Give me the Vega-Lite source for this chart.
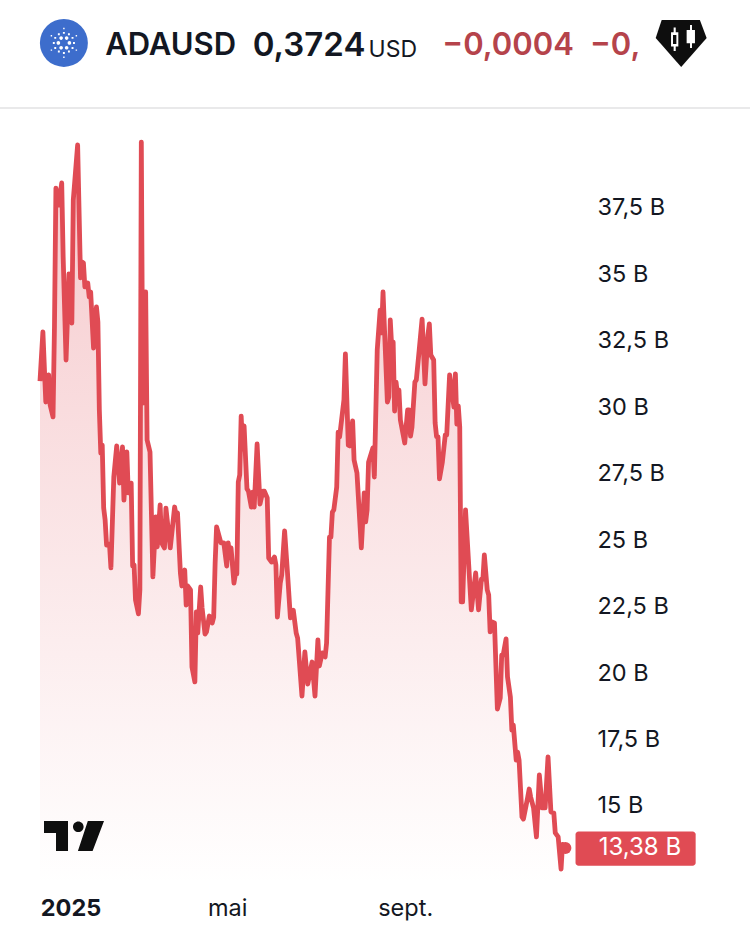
{
  "$schema": "https://vega.github.io/schema/vega-lite/v6.json",
  "description": "ADAUSD market cap",
  "autosize": "none",
  "padding": {"left": 40, "right": 160, "top": 120, "bottom": 46},
  "width": 550,
  "height": 765,
  "background": "white",
  "config": {"view": {"stroke": null}, "font": "Inter"},
  "data": {
    "values": [
      {"date":"2024-12-22","bn":30.95},{"date":"2024-12-24","bn":32.8},{"date":"2024-12-26","bn":30.16},{"date":"2024-12-28","bn":31.18},{"date":"2024-12-29","bn":30.05},{"date":"2024-12-31","bn":29.6},
      {"date":"2025-01-01","bn":33.0},{"date":"2025-01-02","bn":38.21},{"date":"2025-01-04","bn":37.57},{"date":"2025-01-06","bn":38.4},{"date":"2025-01-07","bn":35.62},{"date":"2025-01-09","bn":31.74},{"date":"2025-01-11","bn":34.98},{"date":"2025-01-13","bn":33.13},{"date":"2025-01-14","bn":37.76},{"date":"2025-01-17","bn":39.83},{"date":"2025-01-19","bn":34.83},{"date":"2025-01-20","bn":35.43},{"date":"2025-01-21","bn":35.39},{"date":"2025-01-22","bn":34.49},{"date":"2025-01-24","bn":34.64},{"date":"2025-01-25","bn":34.11},{"date":"2025-01-26","bn":34.3},{"date":"2025-01-28","bn":32.19},{"date":"2025-01-30","bn":33.74},{"date":"2025-01-31","bn":33.17},
      {"date":"2025-02-01","bn":29.86},{"date":"2025-02-02","bn":28.24},{"date":"2025-02-03","bn":28.54},{"date":"2025-02-04","bn":26.17},{"date":"2025-02-05","bn":25.72},{"date":"2025-02-06","bn":24.78},{"date":"2025-02-08","bn":24.82},{"date":"2025-02-09","bn":23.92},{"date":"2025-02-11","bn":27.34},{"date":"2025-02-13","bn":28.51},{"date":"2025-02-15","bn":27.11},{"date":"2025-02-17","bn":28.47},{"date":"2025-02-18","bn":26.47},{"date":"2025-02-20","bn":28.28},{"date":"2025-02-21","bn":26.74},{"date":"2025-02-23","bn":27.11},{"date":"2025-02-24","bn":23.99},{"date":"2025-02-25","bn":24.03},{"date":"2025-02-26","bn":22.71},{"date":"2025-02-28","bn":22.19},
      {"date":"2025-03-01","bn":23.09},{"date":"2025-03-02","bn":39.94},{"date":"2025-03-03","bn":30.12},{"date":"2025-03-05","bn":34.3},{"date":"2025-03-06","bn":28.73},{"date":"2025-03-08","bn":28.28},{"date":"2025-03-10","bn":23.58},{"date":"2025-03-12","bn":25.84},{"date":"2025-03-13","bn":24.71},{"date":"2025-03-15","bn":26.29},{"date":"2025-03-16","bn":24.86},{"date":"2025-03-18","bn":24.67},{"date":"2025-03-19","bn":26.17},{"date":"2025-03-22","bn":24.67},{"date":"2025-03-25","bn":26.21},{"date":"2025-03-26","bn":25.91},{"date":"2025-03-27","bn":25.99},{"date":"2025-03-29","bn":23.73},{"date":"2025-03-30","bn":23.24},
      {"date":"2025-04-01","bn":23.84},{"date":"2025-04-02","bn":22.52},{"date":"2025-04-03","bn":23.24},{"date":"2025-04-05","bn":23.09},{"date":"2025-04-06","bn":20.19},{"date":"2025-04-08","bn":19.63},{"date":"2025-04-09","bn":22.26},{"date":"2025-04-10","bn":21.47},{"date":"2025-04-12","bn":23.2},{"date":"2025-04-13","bn":22.41},{"date":"2025-04-15","bn":21.43},{"date":"2025-04-16","bn":21.51},{"date":"2025-04-18","bn":22.11},{"date":"2025-04-20","bn":21.85},{"date":"2025-04-21","bn":22.07},{"date":"2025-04-22","bn":24.1},{"date":"2025-04-23","bn":25.46},{"date":"2025-04-26","bn":24.86},{"date":"2025-04-28","bn":24.86},{"date":"2025-04-30","bn":23.99},
      {"date":"2025-05-01","bn":24.86},{"date":"2025-05-02","bn":24.44},{"date":"2025-05-03","bn":24.67},{"date":"2025-05-05","bn":23.35},{"date":"2025-05-06","bn":23.69},{"date":"2025-05-07","bn":23.69},{"date":"2025-05-08","bn":27.15},{"date":"2025-05-09","bn":27.42},{"date":"2025-05-10","bn":29.63},{"date":"2025-05-11","bn":28.39},{"date":"2025-05-12","bn":29.26},{"date":"2025-05-14","bn":26.89},{"date":"2025-05-15","bn":26.81},{"date":"2025-05-17","bn":26.21},{"date":"2025-05-18","bn":26.77},{"date":"2025-05-19","bn":26.21},{"date":"2025-05-21","bn":28.58},{"date":"2025-05-23","bn":26.32},{"date":"2025-05-25","bn":26.81},{"date":"2025-05-26","bn":26.81},{"date":"2025-05-28","bn":26.55},{"date":"2025-05-29","bn":24.29},{"date":"2025-05-31","bn":24.14},
      {"date":"2025-06-02","bn":24.33},{"date":"2025-06-03","bn":24.03},{"date":"2025-06-04","bn":22.07},{"date":"2025-06-06","bn":23.35},{"date":"2025-06-07","bn":23.65},{"date":"2025-06-09","bn":25.31},{"date":"2025-06-11","bn":23.73},{"date":"2025-06-13","bn":22.04},{"date":"2025-06-15","bn":22.33},{"date":"2025-06-17","bn":21.47},{"date":"2025-06-18","bn":21.28},{"date":"2025-06-21","bn":19.1},{"date":"2025-06-23","bn":20.76},{"date":"2025-06-25","bn":19.55},{"date":"2025-06-28","bn":20.38},{"date":"2025-06-30","bn":19.1},
      {"date":"2025-07-02","bn":21.21},{"date":"2025-07-03","bn":20.23},{"date":"2025-07-05","bn":20.72},{"date":"2025-07-07","bn":20.57},{"date":"2025-07-08","bn":21.09},{"date":"2025-07-10","bn":25.08},{"date":"2025-07-11","bn":25.08},{"date":"2025-07-12","bn":26.02},{"date":"2025-07-13","bn":26.1},{"date":"2025-07-15","bn":26.96},{"date":"2025-07-16","bn":29.03},{"date":"2025-07-17","bn":28.85},{"date":"2025-07-20","bn":30.24},{"date":"2025-07-21","bn":31.97},{"date":"2025-07-23","bn":28.54},{"date":"2025-07-24","bn":28.51},{"date":"2025-07-26","bn":29.45},{"date":"2025-07-27","bn":27.98},{"date":"2025-07-29","bn":27.49},
      {"date":"2025-08-01","bn":24.67},{"date":"2025-08-03","bn":26.74},{"date":"2025-08-04","bn":25.65},{"date":"2025-08-05","bn":26.1},{"date":"2025-08-06","bn":27.9},{"date":"2025-08-09","bn":28.43},{"date":"2025-08-10","bn":27.34},{"date":"2025-08-12","bn":32.12},{"date":"2025-08-14","bn":33.62},{"date":"2025-08-15","bn":32.76},{"date":"2025-08-16","bn":34.3},{"date":"2025-08-19","bn":30.16},{"date":"2025-08-20","bn":30.35},{"date":"2025-08-21","bn":33.25},{"date":"2025-08-22","bn":32.23},{"date":"2025-08-23","bn":32.42},{"date":"2025-08-24","bn":29.82},{"date":"2025-08-25","bn":30.91},{"date":"2025-08-26","bn":30.43},{"date":"2025-08-27","bn":30.61},{"date":"2025-08-28","bn":29.48},{"date":"2025-08-31","bn":28.62},
      {"date":"2025-09-02","bn":29.86},{"date":"2025-09-03","bn":29.86},{"date":"2025-09-04","bn":28.88},{"date":"2025-09-05","bn":29.22},{"date":"2025-09-07","bn":30.91},{"date":"2025-09-08","bn":30.99},{"date":"2025-09-10","bn":32.12},{"date":"2025-09-12","bn":33.28},{"date":"2025-09-14","bn":30.84},{"date":"2025-09-16","bn":32.68},{"date":"2025-09-17","bn":33.1},{"date":"2025-09-18","bn":31.93},{"date":"2025-09-20","bn":31.74},{"date":"2025-09-21","bn":29.37},{"date":"2025-09-22","bn":28.85},{"date":"2025-09-23","bn":28.85},{"date":"2025-09-24","bn":27.27},{"date":"2025-09-26","bn":27.9},{"date":"2025-09-28","bn":28.92},{"date":"2025-09-29","bn":28.92},
      {"date":"2025-10-01","bn":31.18},{"date":"2025-10-04","bn":29.97},{"date":"2025-10-05","bn":31.22},{"date":"2025-10-06","bn":29.33},{"date":"2025-10-07","bn":30.01},{"date":"2025-10-08","bn":29.22},{"date":"2025-10-09","bn":22.64},{"date":"2025-10-10","bn":22.64},{"date":"2025-10-12","bn":26.1},{"date":"2025-10-16","bn":22.34},{"date":"2025-10-19","bn":23.73},{"date":"2025-10-21","bn":22.34},{"date":"2025-10-23","bn":23.5},{"date":"2025-10-24","bn":23.5},{"date":"2025-10-25","bn":24.41},{"date":"2025-10-27","bn":23.09},{"date":"2025-10-28","bn":22.9},{"date":"2025-10-29","bn":21.51},{"date":"2025-10-30","bn":21.89},
      {"date":"2025-11-01","bn":21.85},{"date":"2025-11-03","bn":18.61},{"date":"2025-11-05","bn":19.03},{"date":"2025-11-06","bn":20.64},{"date":"2025-11-07","bn":20.64},{"date":"2025-11-09","bn":21.25},{"date":"2025-11-10","bn":19.82},{"date":"2025-11-12","bn":19.06},{"date":"2025-11-13","bn":17.82},{"date":"2025-11-14","bn":18.01},{"date":"2025-11-16","bn":16.69},{"date":"2025-11-17","bn":16.99},{"date":"2025-11-18","bn":16.69},{"date":"2025-11-20","bn":14.55},{"date":"2025-11-21","bn":14.47},{"date":"2025-11-24","bn":15.3},{"date":"2025-11-25","bn":15.6},{"date":"2025-11-26","bn":15.3},{"date":"2025-11-28","bn":14.89},{"date":"2025-11-30","bn":13.8},
      {"date":"2025-12-02","bn":16.13},{"date":"2025-12-04","bn":14.89},{"date":"2025-12-06","bn":14.89},{"date":"2025-12-08","bn":16.81},{"date":"2025-12-10","bn":14.74},{"date":"2025-12-12","bn":14.7},{"date":"2025-12-13","bn":13.95},{"date":"2025-12-15","bn":13.8},{"date":"2025-12-17","bn":12.59},{"date":"2025-12-18","bn":13.52},{"date":"2025-12-20","bn":13.38}
    ]
  },
  "encoding": {
    "x": {
      "field": "date",
      "type": "temporal",
      "title": null,
      "scale": {"domain": [{"year": 2024, "month": 12, "date": 22}, {"year": 2026, "month": 1, "date": 6}]},
      "axis": {
        "domain": false,
        "ticks": false,
        "grid": false,
        "labelFont": "Inter",
        "labelFontSize": 23.5,
        "labelColor": "#131722",
        "labelPadding": 11,
        "labelBound": false,
        "labelFlush": false,
        "labelOverlap": false,
        "labelFontWeight": {"condition": {"test": "month(datum.value) == 0", "value": 700}, "value": 400},
        "labelOffset": {"condition": {"test": "month(datum.value) == 0", "value": 16}, "value": -1},
        "values": [{"year": 2025, "month": 1, "date": 1}, {"year": 2025, "month": 5, "date": 1}, {"year": 2025, "month": 9, "date": 1}],
        "labelExpr": "month(datum.value) == 0 ? '2025' : month(datum.value) == 4 ? 'mai' : 'sept.'"
      }
    },
    "y": {
      "field": "bn",
      "type": "quantitative",
      "title": null,
      "scale": {"domain": [11.99, 40.77], "nice": false, "zero": false},
      "axis": {
        "orient": "right",
        "domain": false,
        "ticks": false,
        "grid": false,
        "labelFont": "Inter",
        "labelFontSize": 23.5,
        "labelColor": "#131722",
        "labelPadding": 7,
        "labelOffset": 1,
        "values": [15, 17.5, 20, 22.5, 25, 27.5, 30, 32.5, 35, 37.5],
        "labelExpr": "replace(replace(format(datum.value, '.1f'), '.0', ''), '.', ',') + ' B'"
      }
    }
  },
  "layer": [
    {
      "mark": {
        "type": "area",
        "color": {
          "gradient": "linear",
          "x1": 0, "y1": 0, "x2": 0, "y2": 1,
          "stops": [
            {"offset": 0, "color": "rgba(224,74,84,0.30)"},
            {"offset": 1, "color": "rgba(224,74,84,0)"}
          ]
        }
      },
      "encoding": {"y2": {"datum": 11.99}}
    },
    {"mark": {"type": "line", "color": "#E04B54", "strokeWidth": 4.8, "strokeJoin": "round"}},
    {
      "data": {"values": [{"date": "2025-12-20", "bn": 13.38}]},
      "mark": {"type": "point", "filled": true, "opacity": 1, "color": "#E04B54", "size": 144}
    },
    {
      "data": {"values": [{"date": "2025-12-27", "end": "2026-03-20", "bn": 14.0, "low": 12.71}]},
      "mark": {"type": "bar", "color": "#E04B54", "cornerRadius": 3},
      "encoding": {"x2": {"field": "end"}, "y2": {"field": "low"}}
    },
    {
      "data": {"values": [{"date": "2026-01-12", "bn": 13.38, "label": "13,38 B"}]},
      "mark": {"type": "text", "align": "left", "baseline": "middle", "color": "white", "font": "Inter", "fontSize": 24},
      "encoding": {"text": {"field": "label"}}
    },
    {
      "data": {"values": [{"date": "2024-11-24", "end": "2026-04-27", "bn": 41.22}]},
      "mark": {"type": "rule", "color": "#E9E9EA", "strokeWidth": 2},
      "encoding": {"x2": {"field": "end"}}
    },
    {
      "data": {"values": [{"date": "2025-02-05", "bn": 43.55, "label": "ADAUSD"}]},
      "mark": {"type": "text", "align": "left", "baseline": "middle", "color": "#131722", "font": "Inter", "fontSize": 31, "fontWeight": 600},
      "encoding": {"text": {"field": "label"}}
    },
    {
      "data": {"values": [{"date": "2025-05-18", "bn": 43.55, "label": "0,3724"}]},
      "mark": {"type": "text", "align": "left", "baseline": "middle", "color": "#131722", "font": "Inter", "fontSize": 33, "fontWeight": 600},
      "encoding": {"text": {"field": "label"}}
    },
    {
      "data": {"values": [{"date": "2025-08-06", "bn": 43.42, "label": "USD"}]},
      "mark": {"type": "text", "align": "left", "baseline": "middle", "color": "#131722", "font": "Inter", "fontSize": 23},
      "encoding": {"text": {"field": "label"}}
    },
    {
      "data": {"values": [{"date": "2025-09-26", "bn": 43.55, "label": "\u22120,0004"}, {"date": "2026-01-06", "bn": 43.55, "label": "\u22120,"}]},
      "mark": {"type": "text", "align": "left", "baseline": "middle", "color": "#B5434B", "font": "Inter", "fontSize": 31, "fontWeight": 600},
      "encoding": {"text": {"field": "label"}}
    },
    {
      "data": {"values": [{"date": "2025-01-07T12:00:00Z", "bn": 43.67}]},
      "mark": {"type": "point", "filled": true, "opacity": 1, "color": "#3D6DCC", "size": 2304, "shape": "circle"}
    },
    {
      "data": {"values": [{"date": "2025-01-07T12:00:00Z", "bn": 43.67}]},
      "mark": {
        "type": "point", "filled": true, "opacity": 1, "color": "white", "size": 2304,
        "shape": "M.155,0a.075,.075 0 1,0 .15,0a.075,.075 0 1,0 -.15,0ZM.04,.2a.075,.075 0 1,0 .15,0a.075,.075 0 1,0 -.15,0ZM-.19,.2a.075,.075 0 1,0 .15,0a.075,.075 0 1,0 -.15,0ZM-.305,0a.075,.075 0 1,0 .15,0a.075,.075 0 1,0 -.15,0ZM-.19,-.2a.075,.075 0 1,0 .15,0a.075,.075 0 1,0 -.15,0ZM.04,-.2a.075,.075 0 1,0 .15,0a.075,.075 0 1,0 -.15,0ZM.38,-.04h.08v.08h-.08zM.32,.17h.08v.08h-.08zM.17,.32h.08v.08h-.08zM-.04,.38h.08v.08h-.08zM-.25,.32h.08v.08h-.08zM-.4,.17h.08v.08h-.08zM-.46,-.04h.08v.08h-.08zM-.4,-.25h.08v.08h-.08zM-.25,-.4h.08v.08h-.08zM-.04,-.46h.08v.08h-.08zM.17,-.4h.08v.08h-.08zM.32,-.25h.08v.08h-.08zM.49,.27h.06v.06h-.06zM-.03,.57h.06v.06h-.06zM-.55,.27h.06v.06h-.06zM-.55,-.33h.06v.06h-.06zM-.03,-.63h.06v.06h-.06zM.49,-.33h.06v.06h-.06z"
      }
    },
    {
      "data": {"values": [{"date": "2026-03-10", "bn": 43.63}]},
      "mark": {"type": "point", "filled": true, "opacity": 1, "color": "#0E0E0E", "size": 2704, "shape": "M-.75,-.92H.72L.98,-.23L0,.885L-.98,-.23Z"}
    },
    {
      "data": {"values": [{"date": "2026-03-10", "bn": 43.63}]},
      "mark": {
        "type": "point", "filled": true, "opacity": 1, "color": "white", "size": 2704,
        "shape": "M-.29,-.63H-.21V-.45H-.11V.1H-.21V.27H-.29V.1H-.39V-.45H-.29ZM-.315,-.35V0H-.185V-.35ZM.34,-.73H.415V-.54H.53V-.03H.415V.15H.34V-.03H.21V-.54H.34Z"
      }
    },
    {
      "data": {"values": [{"date": "2025-01-14T12:00:00Z", "bn": 13.83}]},
      "mark": {
        "type": "point", "filled": true, "opacity": 1, "color": "#0E0E0E", "size": 3600,
        "shape": "M-1,-.5H-.2V.5H-.6V-.1H-1ZM-.034,-.31a.177,.177 0 1,0 .354,0a.177,.177 0 1,0 -.354,0ZM.46,-.5H1L.62,.5H.13Z"
      }
    }
  ]
}
